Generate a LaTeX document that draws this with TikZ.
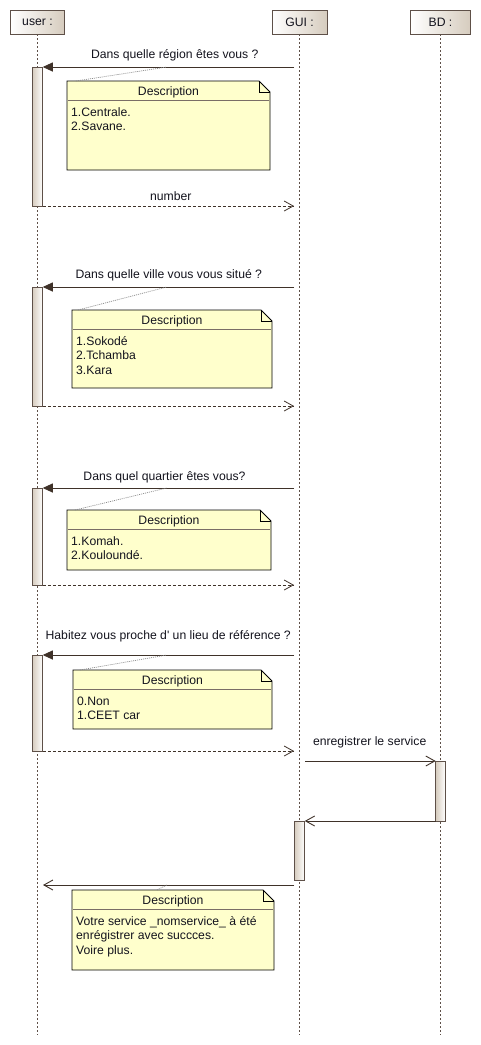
\documentclass[tikz,border=0pt]{standalone}
\usepackage{fontspec}
\setmainfont{Liberation Sans}
\usetikzlibrary{arrows.meta,calc}
\definecolor{ln}{HTML}{3F3229}
\definecolor{ll}{HTML}{5E5048}
\definecolor{notey}{HTML}{FFFFCC}
\definecolor{tanc}{HTML}{D6CCBE}
\definecolor{dotc}{HTML}{8A8A8A}
\definecolor{sepc}{HTML}{7A6E66}
\definecolor{txt}{HTML}{14141E}
\newcommand\mknote[6]{%
  \pgfmathsetmacro\nw{#4-#2}\pgfmathsetmacro\nh{#5-#3}%
  \pgfmathsetmacro\ncx{(#2+#4)/2}\pgfmathsetmacro\ncy{(#3+#5)/2}%
  \node[notebox, minimum width=\nw pt, minimum height=\nh pt] (#1) at (\ncx,\ncy) {};
  \filldraw[notebd] (#1.north west) -- ([xshift=-11pt]#1.north east) -- ([yshift=-11pt]#1.north east) -- (#1.south east) -- (#1.south west) -- cycle;
  \draw[notebd, fill=none] ([xshift=-11pt]#1.north east) |- ([yshift=-11pt]#1.north east);
  \draw[sepc, line width=0.6pt] ([xshift=1pt,yshift=-19pt]#1.north west) -- ([xshift=-1pt,yshift=-19pt]#1.north east);
  \node[anchor=base, inner sep=0, text=txt] (#1h) at ([yshift=-14.5pt]#1.north) {Description};
  \node[anchor=north west, inner sep=0, align=left, text=txt] (#1b) at ([xshift=4pt,yshift=-25.5pt]#1.north west) {\rule{0pt}{10pt}#6};
}
\begin{document}
\begin{tikzpicture}[x=1pt,y=-1pt, font=\fontsize{12.2}{14.2}\selectfont,
 head/.style={draw=ll, line width=0.9pt, left color=white, right color=tanc, minimum height=24pt, inner sep=0, outer sep=0, text=txt},
 lifeline/.style={draw=ll, line width=0.8pt, dash pattern=on 2pt off 2pt},
 actbar/.style={draw=ll, line width=0.8pt, left color=tanc, right color=white, minimum width=10.5pt, inner sep=0, outer sep=0},
 callmsg/.style={draw=ln, line width=0.9pt, -{Triangle[length=10pt,width=9pt]}},
 syncmsg/.style={draw=ln, line width=0.9pt, -{Straight Barb[length=9pt,width=10pt]}},
 retmsg/.style={draw=ln, line width=0.8pt, dash pattern=on 3pt off 2pt, -{Straight Barb[length=9pt,width=10pt]}},
 notebd/.style={draw=black, line width=0.9pt, fill=notey},
 notelink/.style={draw=dotc, line width=0.7pt, dash pattern=on 1pt off 1pt},
 lbl/.style={inner sep=0, anchor=base, text=txt},
 notebox/.style={draw=none, inner sep=0, outer sep=0},
]
\fill[white] (0,0) rectangle (480,1045);
\useasboundingbox (0,0) rectangle (480,1045);

% lifeline heads
\node[head, minimum width=54pt] (uh) at (37.5,22) {user :};
\node[head, minimum width=55pt] (gh) at (299.5,22) {GUI :};
\node[head, minimum width=60pt] (bh) at (440.5,22) {BD :};
\coordinate (ue) at (37.5,1035);
\coordinate (ge) at (299.5,1035);
\coordinate (be) at (440.5,1035);
\draw[lifeline] (uh.south) -- (ue);
\draw[lifeline] (gh.south) -- (ge);
\draw[lifeline] (bh.south) -- (be);

% activation bars
\node[actbar, minimum height=139pt] (b1) at (37.5,136.5) {};
\node[actbar, minimum height=119pt] (b2) at (37.5,346.5) {};
\node[actbar, minimum height=97pt] (b3) at (37.5,536.5) {};
\node[actbar, minimum height=96pt] (b4) at (37.5,703) {};
\node[actbar, minimum height=60pt, minimum width=9.6pt] (bb) at (440.5,791) {};
\node[actbar, minimum height=59pt] (gb) at (299.5,850.5) {};

% GUI-side coordinates
\coordinate (g1) at (294,67);
\coordinate (g1r) at (294,206);
\coordinate (g2) at (294,287);
\coordinate (g2r) at (294,406);
\coordinate (g3) at (294,488);
\coordinate (g3r) at (294,585);
\coordinate (g4) at (294,655);
\coordinate (g4r) at (294,751);
\coordinate (g5) at (305,761);
\coordinate (g7) at (294,885);
\coordinate (u7) at (43,885);

% messages
\draw[callmsg] (g1) -- (b1.north east);
\draw[retmsg] (b1.south east) -- (g1r);
\draw[callmsg] (g2) -- (b2.north east);
\draw[retmsg] (b2.south east) -- (g2r);
\draw[callmsg] (g3) -- (b3.north east);
\draw[retmsg] (b3.south east) -- (g3r);
\draw[callmsg] (g4) -- (b4.north east);
\draw[retmsg] (b4.south east) -- (g4r);
\draw[syncmsg] (g5) -- (bb.north west);
\draw[syncmsg] (bb.south west) -- (gb.north east);
\draw[syncmsg] (g7) -- (u7);

% message labels
\node[lbl] (l1) at (174.8,58.5) {Dans quelle région êtes vous ?};
\node[lbl] (l1r) at (170.8,200) {number};
\node[lbl] (l2) at (168.8,278) {Dans quelle ville vous vous situé ?};
\node[lbl] (l3) at (164.5,480) {Dans quel quartier êtes vous?};
\node[lbl] (l4) at (168.2,639.3) {Habitez vous proche d\textquotesingle\ un lieu de référence ?};
\node[lbl] (l5) at (369.7,745) {enregistrer le service};

% notes
\mknote{n1}{67}{81}{270}{170}{1.Centrale.\\2.Savane.}
\mknote{n2}{72}{310}{272}{388}{1.Sokodé\\2.Tchamba\\3.Kara}
\mknote{n3}{67}{510}{271}{570}{1.Komah.\\2.Kouloundé.}
\mknote{n4}{73}{670}{272}{729}{0.Non\\1.CEET car}
\mknote{n5}{72}{890}{274}{970}{Votre service \_nomservice\_ à été\\enrégistrer avec succces.\\Voire plus.}

% note links
\coordinate (k1) at (166.7,67);
\coordinate (k2) at (166.7,287);
\coordinate (k3) at (166.7,488);
\coordinate (k4) at (166.7,655);
\coordinate (k5) at (166.7,885);
\draw[notelink] ([xshift=9pt]n1.north west) -- (k1);
\draw[notelink] ([xshift=6pt]n2.north west) -- (k2);
\draw[notelink] ([xshift=8pt]n3.north west) -- (k3);
\draw[notelink] ([xshift=7pt]n4.north west) -- (k4);
\draw[notelink] ([xshift=85pt]n5.north west) -- (k5);
\end{tikzpicture}
\end{document}
